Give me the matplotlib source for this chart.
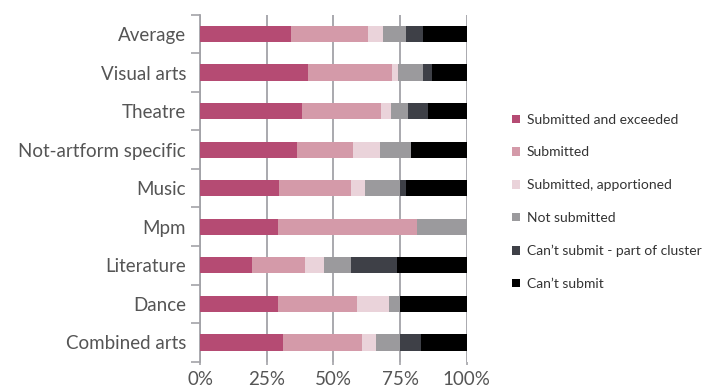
import matplotlib
matplotlib.use("Agg")
import matplotlib.pyplot as plt
import numpy as np

plt.rcParams['font.family'] = ['Lato', 'DejaVu Sans']

categories = [
    "Average",
    "Visual arts",
    "Theatre",
    "Not-artform specific",
    "Music",
    "Mpm",
    "Literature",
    "Dance",
    "Combined arts",
]

series_names = [
    "Submitted and exceeded",
    "Submitted",
    "Submitted, apportioned",
    "Not submitted",
    "Can\u2019t submit - part of cluster",
    "Can\u2019t submit",
]

colors = ['#b54b73', '#d49aa9', '#ead3da', '#9b9a9d', '#3e4047', '#000000']

# percentage share per category, one list per series
submitted_exceeded = [34.1, 40.4, 38.1, 36.5, 29.8, 29.1, 19.4, 29.1, 31.2]
submitted = [28.8, 31.5, 29.6, 21.0, 26.7, 52.1, 20.0, 29.6, 29.4]
submitted_apportioned = [5.6, 2.5, 3.8, 10.1, 5.4, 0.0, 7.1, 12.0, 5.3]
not_submitted = [8.6, 9.1, 6.4, 11.4, 13.0, 18.8, 10.0, 4.3, 9.0]
cant_submit_cluster = [6.4, 3.4, 7.5, 0.0, 2.2, 0.0, 17.2, 0.0, 7.8]
cant_submit = [16.5, 13.1, 14.6, 21.0, 22.9, 0.0, 26.3, 25.0, 17.3]

series = [submitted_exceeded, submitted, submitted_apportioned,
          not_submitted, cant_submit_cluster, cant_submit]

fig = plt.figure(figsize=(7.09, 3.89), dpi=100)
ax = fig.add_axes([0.2821, 0.0702, 0.3761, 0.892])

y = np.arange(len(categories))
left = np.zeros(len(categories))
for name, vals, c in zip(series_names, series, colors):
    vals = np.array(vals)
    ax.barh(y, vals, left=left, height=0.42, color=c, label=name, zorder=3)
    left += vals

grid_color = '#a3a3a8'
ax.set_xlim(0, 100)
ax.set_ylim(len(categories) - 0.5, -0.5)
ax.set_xticks([0, 25, 50, 75, 100])
ax.set_xticklabels(['0%', '25%', '50%', '75%', '100%'])
ax.xaxis.grid(True, color=grid_color, linewidth=1.3, zorder=0)
ax.set_yticks(y)
ax.set_yticklabels(categories)
ax.set_yticks(np.arange(-0.5, len(categories)), minor=True)
ax.tick_params(axis='y', which='major', length=0, pad=10, labelsize=13.5, labelcolor='#555555')
ax.tick_params(axis='y', which='minor', length=6.5, width=1.2, color=grid_color)
ax.tick_params(axis='x', length=2, width=1.2, color=grid_color, labelsize=13.5, labelcolor='#555555', pad=5)

for s in ['top', 'right', 'bottom']:
    ax.spines[s].set_visible(False)
ax.spines['left'].set_color(grid_color)
ax.spines['left'].set_linewidth(1.3)

fig.legend(loc='upper left', bbox_to_anchor=(0.705, 0.74), frameon=False,
           fontsize=10, handlelength=0.55, handleheight=0.55, handletextpad=0.5,
           labelspacing=1.5, labelcolor='#333333')

fig.savefig('out.png', dpi=100)
